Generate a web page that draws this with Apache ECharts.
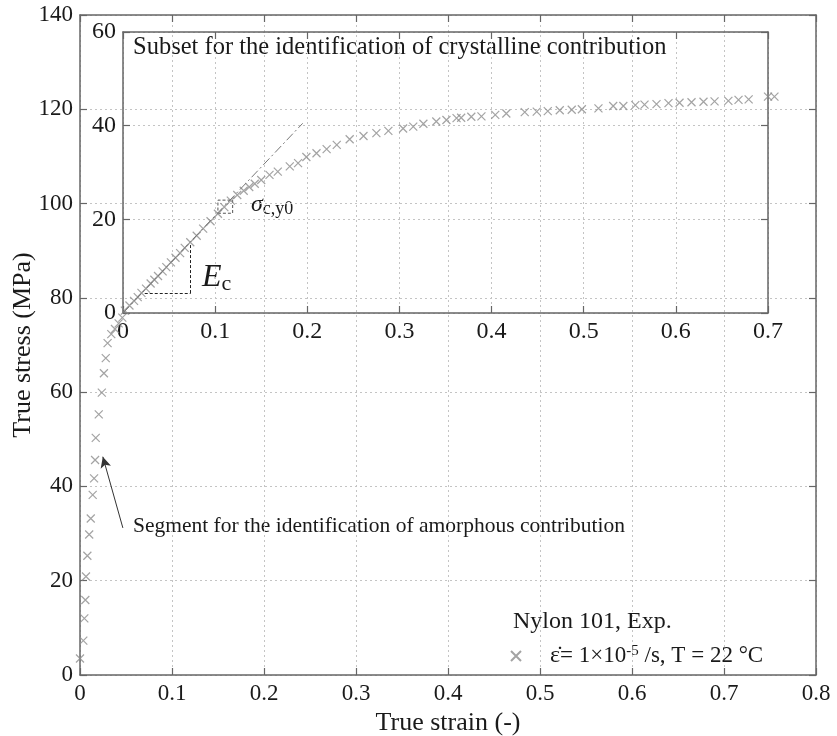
<!DOCTYPE html>
<html>
<head>
<meta charset="utf-8">
<script src="https://cdn.jsdelivr.net/npm/echarts@6/dist/echarts.min.js"></script>
<style>
  html, body { margin: 0; padding: 0; background: #fff; }
  #chart { width: 837px; height: 736px; }
</style>
</head>
<body>
<div id="chart"></div>
<script>
// amorphous segment (main axes): true strain / true stress (MPa)
const mainStrain = [0.000, 0.0036, 0.0047, 0.0058, 0.0065, 0.008, 0.010, 0.0117, 0.0138, 0.0153, 0.0164, 0.0171, 0.0204, 0.0237, 0.026, 0.028, 0.030, 0.034, 0.038, 0.042, 0.046];
const mainStress = [3.5, 7.3, 12.0, 15.9, 20.9, 25.3, 29.8, 33.2, 38.2, 41.7, 45.6, 50.3, 55.3, 59.9, 64.0, 67.2, 70.4, 72.3, 73.4, 74.6, 75.8];

// crystalline subset (inset axes)
const insetStrain = [0.002, 0.007, 0.012, 0.016, 0.020, 0.025, 0.030, 0.034, 0.038, 0.043, 0.047, 0.052, 0.057, 0.062, 0.067, 0.073, 0.080, 0.087, 0.095, 0.103, 0.110, 0.117, 0.124, 0.131, 0.137, 0.143, 0.150, 0.159, 0.168, 0.181, 0.190, 0.199, 0.210, 0.221, 0.232, 0.246, 0.261, 0.275, 0.288, 0.304, 0.315, 0.326, 0.340, 0.351, 0.362, 0.367, 0.378, 0.389, 0.404, 0.416, 0.436, 0.449, 0.461, 0.474, 0.487, 0.498, 0.516, 0.532, 0.543, 0.556, 0.566, 0.579, 0.592, 0.604, 0.617, 0.630, 0.642, 0.657, 0.668, 0.679, 0.700, 0.707];
const insetStress = [0.5, 1.6, 2.6, 3.4, 4.3, 5.2, 6.3, 7.1, 7.9, 8.9, 9.8, 10.8, 11.8, 12.8, 13.9, 15.1, 16.5, 18.0, 19.6, 21.2, 22.6, 24.0, 25.2, 26.1, 26.9, 27.6, 28.4, 29.5, 30.2, 31.3, 32.0, 33.3, 34.1, 35.0, 35.9, 37.1, 37.8, 38.4, 38.9, 39.4, 39.8, 40.4, 40.9, 41.2, 41.6, 41.7, 41.9, 42.0, 42.3, 42.6, 42.9, 43.0, 43.1, 43.3, 43.4, 43.5, 43.7, 44.2, 44.2, 44.4, 44.5, 44.6, 44.8, 44.9, 45.0, 45.1, 45.2, 45.3, 45.5, 45.6, 46.2, 46.2];

const mainXTicks = [0, 0.8, 0.1];
const mainYTicks = [0, 140, 20];
const insetXTicks = [0, 0.7, 0.1];
const insetYTicks = [0, 60, 20];

// E_c tangent line, slope triangle, sigma_c,y0 box (inset coords)
const tangentLine = [[0, 0], [0.195, 40.5]];
const slopeTriangle = [[0.0236, 4.26], [0.0735, 4.26], [0.0735, 14.9]];
const yieldBox = [[0.103, 21.3], [0.119, 24.1]];
// arrow to the amorphous segment (main coords)
const arrowLine = [[0.0466, 31.2], [0.0248, 46.3]];

const FONT = 'Liberation Serif';
const TEXT = '#1a1a1a';
const AXIS = '#666';
const GRID = '#c4c4c4';
const MARK = '#8c8c8c';
const cross = 'path://M0,0L10,10M10,0L0,10';

function axisBase(ticks, grid, pos, labels, size) {
  return {
    type: 'value',
    gridIndex: grid,
    position: pos,
    min: ticks[0],
    max: ticks[1],
    interval: ticks[2],
    axisLine: { show: true, onZero: false, lineStyle: { color: AXIS, width: 1.5 } },
    axisTick: { show: true, inside: true, length: 7, lineStyle: { color: AXIS, width: 1.2 } },
    axisLabel: { show: labels, color: TEXT, fontFamily: FONT, fontSize: size || 23, margin: 7 },
    splitLine: { show: labels, lineStyle: { color: GRID, type: [2, 3], width: 1 } },
  };
}

const chart = echarts.init(document.getElementById('chart'));

const mainX = axisBase(mainXTicks, 0, 'bottom', true);
mainX.name = 'True strain (-)';
mainX.nameLocation = 'middle';
mainX.nameGap = 33;
mainX.nameTextStyle = { color: TEXT, fontFamily: FONT, fontSize: 26 };
const mainY = axisBase(mainYTicks, 0, 'left', true);
mainY.name = 'True stress (MPa)';
mainY.nameLocation = 'middle';
mainY.nameGap = 44;
mainY.nameMoveOverlap = false;
mainY.nameTextStyle = { color: TEXT, fontFamily: FONT, fontSize: 26 };

const option = {
  animation: false,
  backgroundColor: '#fff',
  grid: [
    { left: 80, top: 15, right: 21, bottom: 61, outerBoundsMode: 'none', containLabel: false },
    { left: 123, top: 32, width: 645, height: 281, outerBoundsMode: 'none', containLabel: false },
  ],
  xAxis: [
    mainX,
    axisBase(mainXTicks, 0, 'top', false),
    axisBase(insetXTicks, 1, 'bottom', true, 24),
    axisBase(insetXTicks, 1, 'top', false),
  ],
  yAxis: [
    mainY,
    axisBase(mainYTicks, 0, 'right', false),
    axisBase(insetYTicks, 1, 'left', true, 24),
    axisBase(insetYTicks, 1, 'right', false),
  ],
  legend: {
    left: 505,
    top: 639,
    itemWidth: 10,
    itemHeight: 10,
    data: ['exp'],
    formatter: () => '{e|ε̇}= 1×10{sup|-5} /s, T = 22 °C',
    textStyle: {
      color: TEXT, fontFamily: FONT, fontSize: 23,
      rich: {
        e: { fontFamily: FONT, fontSize: 24, padding: [0, 0, 0, 24] },
        sup: { fontFamily: FONT, fontSize: 15, verticalAlign: 'top', padding: [0, 0, 8, 0] },
      },
    },
  },
  graphic: [
    { type: 'text', left: 133, top: 35, style: { text: 'Subset for the identification of crystalline contribution', fill: TEXT, font: '24.5px ' + FONT } },
    { type: 'text', left: 133, top: 515, style: { text: 'Segment for the identification of amorphous contribution', fill: TEXT, font: '21.5px ' + FONT } },
    { type: 'text', left: 513, top: 610, style: { text: 'Nylon 101, Exp.', fill: TEXT, font: '24px ' + FONT } },
    {
      type: 'text', left: 202, top: 262,
      style: {
        text: '{i|E}{s|c}', fill: TEXT,
        rich: {
          i: { fontFamily: FONT, fontSize: 32, fontStyle: 'italic', fill: TEXT },
          s: { fontFamily: FONT, fontSize: 22, fill: TEXT, padding: [12, 0, 0, 0] },
        },
      },
    },
    {
      type: 'text', left: 251, top: 193,
      style: {
        text: '{i|σ}{s|c,y0}', fill: TEXT,
        rich: {
          i: { fontFamily: FONT, fontSize: 24, fontStyle: 'italic', fill: TEXT },
          s: { fontFamily: FONT, fontSize: 18, fill: TEXT, padding: [9, 0, 0, 0] },
        },
      },
    },
  ],
  series: [
    {
      name: 'exp',
      type: 'scatter',
      xAxisIndex: 0,
      yAxisIndex: 0,
      symbol: cross,
      symbolSize: 8,
      clip: false,
      itemStyle: { color: 'rgba(0,0,0,0)', borderColor: MARK, borderWidth: 1.2 },
      data: mainStrain.map((x, i) => [x, mainStress[i]]),
      markLine: {
        silent: true,
        symbol: ['none', 'arrow'],
        symbolSize: [8, 11],
        label: { show: false },
        lineStyle: { color: '#333', width: 1, type: 'solid' },
        data: [[{ coord: arrowLine[0] }, { coord: arrowLine[1] }]],
      },
    },
    {
      name: 'exp',
      type: 'scatter',
      xAxisIndex: 2,
      yAxisIndex: 2,
      symbol: cross,
      symbolSize: 8,
      clip: false,
      itemStyle: { color: 'rgba(0,0,0,0)', borderColor: MARK, borderWidth: 1.2 },
      data: insetStrain.map((x, i) => [x, insetStress[i]]),
      markLine: {
        silent: true,
        symbol: ['none', 'none'],
        label: { show: false },
        data: [
          [{ coord: tangentLine[0], lineStyle: { color: '#777', width: 1, type: [9, 3, 2, 3] } },
           { coord: tangentLine[1] }],
          [{ coord: slopeTriangle[0], lineStyle: { color: '#222', width: 1, type: [3, 2] } },
           { coord: slopeTriangle[1] }],
          [{ coord: slopeTriangle[1], lineStyle: { color: '#222', width: 1, type: [3, 2] } },
           { coord: slopeTriangle[2] }],
        ],
      },
      markArea: {
        silent: true,
        itemStyle: { color: 'rgba(0,0,0,0)', borderColor: '#555', borderWidth: 1, borderType: [3, 2] },
        data: [[{ coord: yieldBox[0] }, { coord: yieldBox[1] }]],
      },
    },
  ],
};

chart.setOption(option);
</script>
</body>
</html>
